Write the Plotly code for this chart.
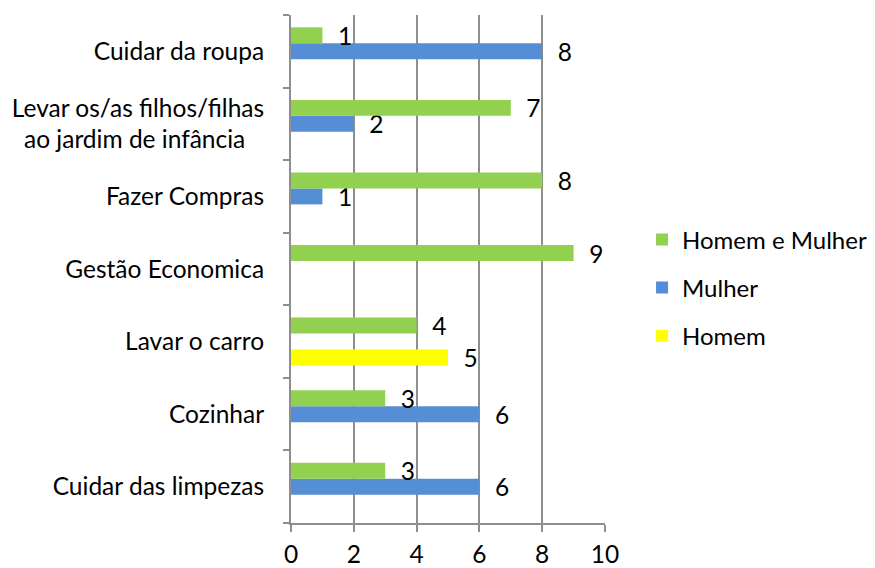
import plotly.graph_objects as go

categories = ["Cuidar das limpezas", "Cozinhar", "Lavar o carro", "Gestão Economica",
              "Fazer Compras", "Levar os/as filhos/filhas ao jardim de infância", "Cuidar da roupa"]
tick_labels = ["Cuidar das limpezas", "Cozinhar", "Lavar o carro", "Gestão Economica",
               "Fazer Compras", "Levar os/as filhos/filhas<br>ao jardim de infância\u00a0\u00a0\u00a0", "Cuidar da roupa"]
homem = [None, None, 5, None, None, None, None]
mulher = [6, 6, None, None, 1, 2, 8]
homem_e_mulher = [3, 3, 4, 9, 8, 7, 1]
x_ticks = [0, 2, 4, 6, 8, 10]

FONT = "Lato"
FS = 24.5
LINE = "#8E8E8E"
series = [("Homem", homem, "#FFFF00", 3), ("Mulher", mulher, "#558ED5", 2),
          ("Homem e Mulher", homem_e_mulher, "#92D050", 1)]

fig = go.Figure()
for name, vals, col, rank in series:
    fig.add_trace(go.Bar(
        y=categories, x=vals, name=name, orientation="h",
        marker=dict(color=col, line=dict(width=0)),
        text=[("" if v is None else str(v)) for v in vals],
        texttemplate="  %{text}", textposition="outside",
        textfont=dict(family=FONT, size=FS, color="black"),
        constraintext="none", cliponaxis=False, legendgroup=name, legendrank=rank,
    ))

fig.update_layout(
    width=875, height=568,
    margin=dict(l=291, r=270, t=15, b=45, autoexpand=False),
    paper_bgcolor="white", plot_bgcolor="white",
    barmode="group", bargap=0.34, bargroupgap=0,
    font=dict(family=FONT, size=FS, color="black"),
    legend=dict(x=1.118, y=0.463, xanchor="left", yanchor="middle",
                traceorder="grouped", tracegroupgap=14,
                font=dict(family=FONT, size=24, color="black")),
    xaxis=dict(range=[0, 10], tickvals=x_ticks, showgrid=True, gridcolor=LINE, gridwidth=2,
               showline=True, linecolor=LINE, linewidth=2, ticks="outside", ticklen=7, tickwidth=2,
               tickcolor=LINE, zeroline=False, ticklabelstandoff=2, automargin=False),
    yaxis=dict(categoryorder="array", categoryarray=categories, tickvals=categories, ticktext=tick_labels,
               showline=True, linecolor=LINE, linewidth=2, ticks="outside", ticklen=6, tickwidth=2,
               tickcolor=LINE, tickson="boundaries", showgrid=False, ticklabelstandoff=20,
               automargin=False),
)
fig.write_html("out.html", config={"displayModeBar": False},
               post_script="document.body.style.margin='0';document.body.style.overflow='hidden';")
